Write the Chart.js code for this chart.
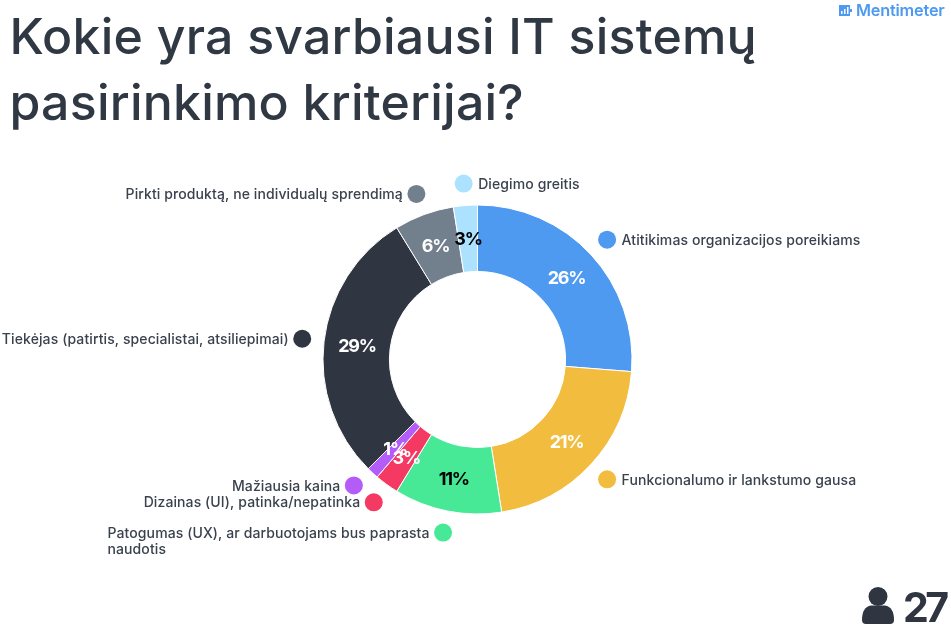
<!DOCTYPE html>
<html><head><meta charset="utf-8">
<style>html,body{margin:0;padding:0;background:#fff}#w{position:relative;width:951px;height:629px}</style>
<script src="https://cdn.jsdelivr.net/npm/chart.js@4"></script></head>
<body><div id="w"><canvas id="c" width="951" height="629"></canvas></div>
<script>
const titleLines = ["Kokie yra svarbiausi IT sistemų", "pasirinkimo kriterijai?"];
const categories = [
  ["Atitikimas organizacijos poreikiams"],
  ["Funkcionalumo ir lankstumo gausa"],
  ["Patogumas (UX), ar darbuotojams bus paprasta", "naudotis"],
  ["Dizainas (UI), patinka/nepatinka"],
  ["Mažiausia kaina"],
  ["Tiekėjas (patirtis, specialistai, atsiliepimai)"],
  ["Pirkti produktą, ne individualų sprendimą"],
  ["Diegimo greitis"]
];
const votes = [21, 17, 9, 2, 1, 23, 5, 2];
const sliceColors = ["#4e9af1","#f2bd3f","#47e997","#f43a63","#b45cf7","#2f3641","#727f8d","#ade2ff"];
const percentColors = ["#ffffff","#ffffff","#000000","#ffffff","#ffffff","#ffffff","#ffffff","#000000"];
const responses = "27";
const brand = "Mentimeter";
const FONT = "Inter, sans-serif";
const INK = "#3a424e";

const sliceText = {
  id: "sliceText",
  afterDatasetsDraw(chart) {
    const {ctx} = chart;
    const arcs = chart.getDatasetMeta(0).data;
    const total = votes.reduce((a, b) => a + b, 0);
    ctx.save();
    arcs.forEach((arc, i) => {
      const mid = (arc.startAngle + arc.endAngle) / 2;
      const cx = arc.x, cy = arc.y;
      const rm = (arc.innerRadius + arc.outerRadius) / 2;
      ctx.font = "700 18px " + FONT;
      ctx.letterSpacing = "-1.2px";
      ctx.textAlign = "center"; ctx.textBaseline = "middle";
      const order = i === 3 ? 4 : i === 4 ? 3 : i;
      const a2 = arcs[order];
      const mid2 = (a2.startAngle + a2.endAngle) / 2;
      ctx.fillStyle = percentColors[order];
      ctx.fillText(Math.round(votes[order] / total * 100 + 1e-9) + "%", cx + rm * Math.cos(mid2), cy + rm * Math.sin(mid2) + 1);
      const rd = arc.outerRadius + 22;
      const ang = mid + (i === 4 ? 0.03 : 0);
      const dx = cx + rd * Math.cos(ang), dy = cy + rd * Math.sin(ang);
      ctx.beginPath(); ctx.arc(dx, dy, 9, 0, Math.PI * 2);
      ctx.fillStyle = sliceColors[i]; ctx.fill();
      ctx.font = "500 14px " + FONT;
      ctx.letterSpacing = "0.1px";
      ctx.fillStyle = INK;
      ctx.textAlign = "left";
      const lines = categories[i];
      const right = Math.cos(mid) > 0 || i === 7;
      const w = Math.max(...lines.map(l => ctx.measureText(l).width));
      const x = right ? dx + 14.5 : dx - 13.5 - w;
      lines.forEach((l, k) => {
        const lw = ctx.measureText(l).width;
        const lx = (lines.length === 1 && !right) ? dx - 13.5 - lw : x;
        ctx.fillText(l, lx, dy + 1 + k * 16);
      });
    });
    // brand
    ctx.font = "600 16.3px " + FONT;
    ctx.letterSpacing = "-0.2px";
    ctx.fillStyle = "#4e9af1";
    ctx.textAlign = "left";
    ctx.fillText(brand, 856, 11);
    ctx.fillRect(839, 5, 11, 11);
    ctx.fillRect(850, 9, 2, 3);
    ctx.fillStyle = "#fff";
    ctx.fillRect(841, 11, 1.5, 3); ctx.fillRect(844, 9, 1.5, 5); ctx.fillRect(847, 7, 1.5, 7);
    // responses
    ctx.fillStyle = "#2f3641";
    ctx.beginPath(); ctx.arc(878, 596.5, 9.5, 0, Math.PI * 2); ctx.fill();
    ctx.beginPath();
    ctx.moveTo(866, 624);
    ctx.quadraticCurveTo(862, 624, 862, 620);
    ctx.quadraticCurveTo(862, 607, 871, 605.5); ctx.lineTo(885, 605.5);
    ctx.quadraticCurveTo(894, 607, 894, 620);
    ctx.quadraticCurveTo(894, 624, 890, 624); ctx.closePath(); ctx.fill();
    ctx.font = "700 41px " + FONT;
    ctx.letterSpacing = "-3.5px";
    ctx.textAlign = "left"; ctx.textBaseline = "alphabetic";
    ctx.fillText(responses, 903, 622);
    // title
    ctx.font = "500 50px " + FONT;
    ctx.letterSpacing = "0.22px";
    ctx.fillStyle = "#2f3843";
    titleLines.forEach((l, k) => ctx.fillText(l, 9.5, 54 + k * 65.5));
    ctx.restore();
  }
};

new Chart(document.getElementById("c"), {
  type: "doughnut",
  data: {
    labels: categories.map(c => c.join(" ")),
    datasets: [{ data: votes, backgroundColor: sliceColors, borderColor: "#ffffff", borderWidth: 1 }]
  },
  options: {
    responsive: false, animation: false, cutout: "57%",
    layout: { padding: { left: 322, right: 318, top: 204.5, bottom: 114.5 } },
    plugins: { legend: { display: false }, tooltip: { enabled: false } }
  },
  plugins: [sliceText]
});
</script></body></html>
